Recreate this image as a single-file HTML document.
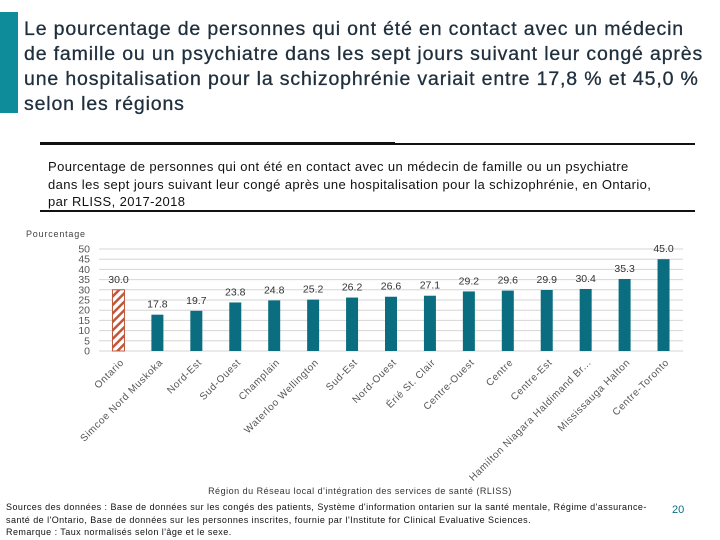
<!DOCTYPE html>
<html><head><meta charset="utf-8"><style>
body{margin:0;background:#fff;font-family:"Liberation Sans",sans-serif;}
#page{position:relative;width:720px;height:540px;overflow:hidden;background:#fff;}
.abs{position:absolute;}
</style></head><body>
<div id="page">
<div class="abs" style="left:0;top:12px;width:18px;height:101px;background:#0e8c99"></div>
<div class="abs" style="left:24px;top:17px;width:700px;white-space:nowrap;font-size:19.5px;line-height:25px;color:#1f2f3d;letter-spacing:0.85px;-webkit-text-stroke:0.3px #1f2f3d">Le pourcentage de personnes qui ont été en contact avec un médecin<br>de famille ou un psychiatre dans les sept jours suivant leur congé après<br>une hospitalisation pour la schizophrénie variait entre 17,8 % et 45,0 %<br>selon les régions</div>
<div class="abs" style="left:40px;top:143px;width:655px;height:2px;background:#111"></div>
<div class="abs" style="left:40px;top:142px;width:355px;height:3px;background:#111"></div>
<div class="abs" style="left:48px;top:158px;width:660px;white-space:nowrap;font-size:13px;line-height:17.5px;color:#111;letter-spacing:0.4px">Pourcentage de personnes qui ont été en contact avec un médecin de famille ou un psychiatre<br>dans les sept jours suivant leur congé après une hospitalisation pour la schizophrénie, en Ontario,<br>par RLISS, 2017-2018</div>
<div class="abs" style="left:40px;top:210px;width:655px;height:2px;background:#111"></div>
<svg class="abs" style="left:0;top:0" width="720" height="540" id="chart"></svg>
<div class="abs" style="left:6px;top:501px;width:670px;white-space:nowrap;font-size:9px;line-height:12.5px;color:#111;letter-spacing:0.45px">Sources des données : Base de données sur les congés des patients, Système d'information ontarien sur la santé mentale, Régime d'assurance-<br>santé de l'Ontario, Base de données sur les personnes inscrites, fournie par l'Institute for Clinical Evaluative Sciences.<br>Remarque : Taux normalisés selon l'âge et le sexe.</div>
<div class="abs" style="left:672px;top:504px;font-size:11px;color:#0e6e80">20</div>
</div>
<script>
const categories=["Ontario","Simcoe Nord Muskoka","Nord-Est","Sud-Ouest","Champlain","Waterloo Wellington","Sud-Est","Nord-Ouest","Érié St. Clair","Centre-Ouest","Centre","Centre-Est","Hamilton Niagara Haldimand Br...","Mississauga Halton","Centre-Toronto"];
const values=[30.0,17.8,19.7,23.8,24.8,25.2,26.2,26.6,27.1,29.2,29.6,29.9,30.4,35.3,45.0];
const yTicks=[0,5,10,15,20,25,30,35,40,45,50];
const NS="http://www.w3.org/2000/svg";
const svg=document.getElementById('chart');
const x0=99,x1=683,y0=351,y1=249,yMax=50;
const step=(x1-x0)/categories.length;
function xPos(i){return x0+step*(i+0.5);}
function yPos(v){return y0-(v/yMax)*(y0-y1);}
function mk(t,a){const e=document.createElementNS(NS,t);for(const k in a)e.setAttribute(k,a[k]);svg.appendChild(e);return e;}
const defs=mk('defs',{});
defs.innerHTML='<pattern id="hatch" width="6" height="6" patternUnits="userSpaceOnUse" patternTransform="rotate(45)"><rect width="6" height="6" fill="#fff"/><rect width="2.5" height="6" fill="#c0573a"/></pattern>';
let t=mk('text',{x:26,y:237,'font-size':9,fill:'#444','letter-spacing':'0.8'});t.textContent='Pourcentage';


yTicks.forEach(v=>{
 const l=mk('line',{x1:x0,x2:x1,y1:yPos(v),y2:yPos(v),stroke:'#d6d6d6','stroke-width':1});
 
 
 const tx=mk('text',{x:90,y:yPos(v)+3.5,'font-size':10.5,fill:'#555','text-anchor':'end'});tx.textContent=v;
 
 
});
categories.forEach((c,i)=>{
 const cx=xPos(i),bw=12,v=values[i];
 const r=mk('rect',{x:cx-bw/2,y:yPos(v),width:bw,height:y0-yPos(v),fill:i===0?'url(#hatch)':'#0a6e80',stroke:i===0?'#c0573a':'none','stroke-width':1});
 
 
 const lb=mk('text',{x:cx,y:yPos(v)-7,'font-size':10.5,fill:'#333','text-anchor':'middle'});lb.textContent=v.toFixed(1);
 
 
 const cl=mk('text',{x:cx+6,y:y0+12,'font-size':10,fill:'#555','text-anchor':'end','letter-spacing':'0.6',transform:`rotate(-45 ${cx+6} ${y0+12})`});cl.textContent=c;
 
 
});
t=mk('text',{x:360,y:494,'font-size':9,fill:'#333','text-anchor':'middle','letter-spacing':'0.5'});t.textContent="Région du Réseau local d'intégration des services de santé (RLISS)";


</script>
</body></html>
